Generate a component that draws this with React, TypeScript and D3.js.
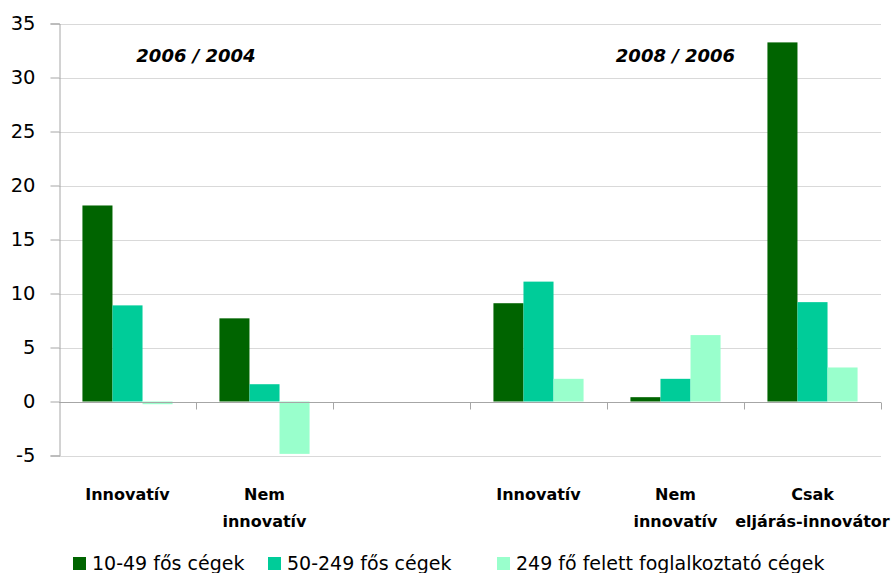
import React, { useRef, useEffect } from "react";
import * as d3 from "d3";

const categories = ["Innovatív", "Nem innovatív", "", "Innovatív ", "Nem innovatív ", "Csak eljárás-innovátor"];
const categoryLines = [["Innovatív"], ["Nem", "innovatív"], [], ["Innovatív"], ["Nem", "innovatív"], ["Csak", "eljárás-innovátor"]];
const seriesNames = ["10-49 fős cégek", "50-249 fős cégek", "249 fő felett foglalkoztató cégek"];
const small = [18.15, 7.7, null, 9.1, 0.4, 33.25];
const medium = [8.9, 1.6, null, 11.1, 2.1, 9.2];
const large = [-0.25, -4.85, null, 2.1, 6.15, 3.15];
const colors = ["#006400", "#00CC99", "#99FFCC"];
const yTicks = [-5, 0, 5, 10, 15, 20, 25, 30, 35];
const periodLabels = ["2006 / 2004", "2008 / 2006"];

const FONT = "'DejaVu Sans', sans-serif";

function App() {
  const svgRef = useRef<SVGSVGElement>(null);

  useEffect(() => {
    const w = 892;
    const h = 573;
    const left = 59;
    const right = 881;
    const svg = d3.select(svgRef.current).attr("width", w).attr("height", h);
    svg.selectAll("*").remove();

    const x = d3.scaleBand<string>().domain(categories).range([left, right]).padding(0);
    const inner = d3
      .scaleBand<string>()
      .domain(seriesNames)
      .range([0, x.bandwidth()])
      .paddingInner(0)
      .paddingOuter(0.78);
    const y = d3.scaleLinear().domain([-5, 35]).range([455.5, 23.5]);

    // gridlines
    svg
      .append("g")
      .selectAll("line")
      .data(yTicks)
      .join("line")
      .attr("x1", left)
      .attr("x2", right)
      .attr("y1", (d) => Math.round(y(d)) + 0.5)
      .attr("y2", (d) => Math.round(y(d)) + 0.5)
      .attr("stroke", "#d9d9d9")
      .attr("stroke-width", 1);

    // y axis (plain hyphen for negatives, like the original)
    const yAxis = d3
      .axisLeft(y)
      .tickValues(yTicks)
      .tickSize(9)
      .tickPadding(15)
      .tickFormat((d) => String(d));
    const gy = svg.append("g").attr("transform", `translate(${left + 0.5},0)`).call(yAxis);
    gy.select(".domain").attr("stroke", "#a6a6a6");
    gy.selectAll(".tick line").attr("stroke", "#a6a6a6");
    gy.selectAll(".tick text")
      .attr("font-family", FONT)
      .attr("font-size", 19.5)
      .attr("fill", "#000");

    // bars
    const series = [small, medium, large];
    series.forEach((vals, si) => {
      svg
        .append("g")
        .selectAll("rect")
        .data(vals.map((v, i) => ({ v, c: categories[i] })).filter((d) => d.v !== null))
        .join("rect")
        .attr("x", (d) => (x(d.c) as number) + (inner(seriesNames[si]) as number))
        .attr("width", inner.bandwidth())
        .attr("y", (d) => y(Math.max(0, d.v as number)))
        .attr("height", (d) => Math.abs(y(d.v as number) - y(0)))
        .attr("fill", colors[si]);
    });

    // x axis line at zero
    const y0 = Math.round(y(0)) + 0.5;
    svg
      .append("line")
      .attr("x1", left)
      .attr("x2", right)
      .attr("y1", y0)
      .attr("y2", y0)
      .attr("stroke", "#a6a6a6");
    svg
      .append("g")
      .selectAll("line")
      .data(categories.slice(1).concat(["end"]))
      .join("line")
      .attr("x1", (d, i) => Math.round(left + (i + 1) * x.step()) + 0.5)
      .attr("x2", (d, i) => Math.round(left + (i + 1) * x.step()) + 0.5)
      .attr("y1", y0)
      .attr("y2", y0 + 7)
      .attr("stroke", "#a6a6a6");

    // category labels
    categories.forEach((c, i) => {
      const cx = (x(c) as number) + x.bandwidth() / 2;
      categoryLines[i].forEach((line, li) => {
        svg
          .append("text")
          .attr("x", cx)
          .attr("y", 500 + li * 27)
          .attr("text-anchor", "middle")
          .attr("font-family", FONT)
          .attr("font-weight", "bold")
          .attr("font-size", 16)
          .text(line);
      });
    });

    // period labels
    const periodX = [x(categories[1]) as number, (x(categories[4]) as number) + x.bandwidth() / 2];
    periodLabels.forEach((t, i) => {
      svg
        .append("text")
        .attr("x", periodX[i])
        .attr("y", 62)
        .attr("text-anchor", "middle")
        .attr("font-family", FONT)
        .attr("font-weight", "bold")
        .attr("font-style", "italic")
        .attr("font-size", 18)
        .text(t);
    });

    // legend
    const legendX = [73, 268, 497];
    seriesNames.forEach((s, i) => {
      const g = svg.append("g").attr("transform", `translate(${legendX[i]},557)`);
      g.append("rect").attr("width", 13).attr("height", 13).attr("fill", colors[i]);
      g.append("text")
        .attr("x", 19)
        .attr("y", 13)
        .attr("font-family", FONT)
        .attr("font-size", 19)
        .text(s);
    });
  }, []);

  return <svg ref={svgRef} style={{ position: "absolute", left: 0, top: 0 }}></svg>;
}

export default App;
